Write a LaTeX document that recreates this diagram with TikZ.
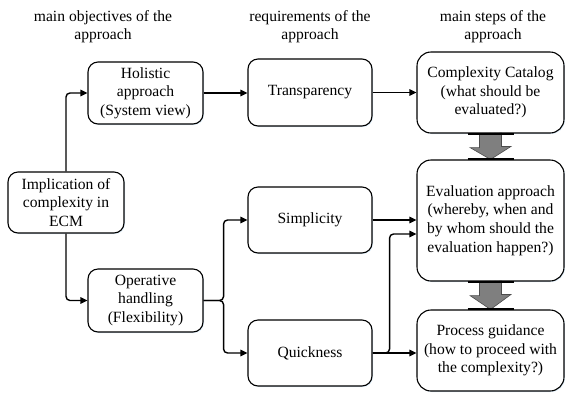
\documentclass[tikz,border=0pt]{standalone}
\usepackage{fontspec}
\setmainfont{Liberation Serif}
\usetikzlibrary{arrows.meta,calc,shadows}
\definecolor{arrgray}{HTML}{7F7F7F}
\definecolor{glow}{HTML}{D6EAF8}
\begin{document}
\begin{tikzpicture}[x=1pt,y=-1pt,
  txt/.style={font=\fontsize{15.6}{18.6}\selectfont, align=center, inner sep=1pt},
  box/.style={txt, draw, line width=1.1pt, rounded corners=10pt,
    drop shadow={shadow xshift=1pt, shadow yshift=-1pt, fill=glow, opacity=0.8}, fill=white},
  bigbox/.style={box, rounded corners=14pt},
  conn/.style={line width=1.4pt, -{Triangle[length=7pt,width=6.5pt]}, rounded corners=4pt},
  blockarr/.style={fill=arrgray, draw=black!70, line width=0.6pt},
  bar/.style={line width=2pt}
]
\useasboundingbox (0,0) rectangle (565,392);

% headers
\node[txt] (h1) at (103,26.5) {main objectives of the\\approach};
\node[txt] (h2) at (310,26.5) {requirements of the\\approach};
\node[txt] (h3) at (493,26.5) {main steps of the\\approach};

% boxes
\node[box, minimum width=116pt, minimum height=61pt] (impl) at (66,202.5) {Implication of\\complexity in\\ECM};
\node[box, minimum width=115pt, minimum height=62pt] (hol) at (145.5,93) {Holistic\\approach\\(System view)};
\node[box, minimum width=115pt, minimum height=63pt] (op) at (145.5,300.5) {Operative\\handling\\(Flexibility)};
\node[box, minimum width=124pt, minimum height=67pt] (trans) at (310,92.5) {Transparency};
\node[box, minimum width=124pt, minimum height=66pt] (simp) at (310,220) {Simplicity};
\node[box, minimum width=124pt, minimum height=66pt] (quick) at (310,353) {Quickness};
\node[bigbox, minimum width=147pt, minimum height=81pt] (cat) at (490.5,92.5) {Complexity Catalog\\(what should be\\evaluated?)};
\node[bigbox, minimum width=147pt, minimum height=121pt] (eval) at (490.5,220.5) {Evaluation approach\\(whereby, when and\\by whom should the\\evaluation happen?)};
\node[bigbox, minimum width=147pt, minimum height=81pt] (proc) at (490.5,350.5) {Process guidance\\(how to proceed with\\the complexity?)};

% connectors
\draw[conn] (impl.north) |- (hol.west);
\draw[conn] (impl.south) |- (op.west);
\draw[conn] (hol.east) -- (hol.east -| trans.west);
\draw[conn] (trans.east) -- (trans.east -| cat.west);
\coordinate (j1) at ($(op.east)+(20,0)$);
\draw[conn] (op.east) -- (j1) |- (simp.west);
\draw[conn] (op.east) -- (j1) |- (quick.west);
\draw[conn] (simp.east) -- (simp.east -| eval.west);
\coordinate (j2) at ($(quick.east)+(17,0)$);
\coordinate (e2) at ($(eval.west)+(0,13.5)$);
\draw[conn] (quick.east) -- (j2) |- (e2);
\draw[conn] (quick.east) -- (quick.east -| proc.west);

% block arrows
\draw[blockarr] ($(cat.south)+(-11,0)$) -- ++(0,14) -- ++(-9.5,0) -- (eval.north)
  -- ++(20.5,-13) -- ++(-9.5,0) -- ++(0,-14) -- cycle;
\draw[bar] ($(cat.south)+(-23,0)$) -- ++(46,0);
\draw[bar] ($(eval.north)+(-23,0)$) -- ++(46,0);
\draw[blockarr] ($(eval.south)+(-11,0)$) -- ++(0,14) -- ++(-9.5,0) -- (proc.north)
  -- ++(20.5,-15) -- ++(-9.5,0) -- ++(0,-14) -- cycle;
\draw[bar] ($(eval.south)+(-23,0)$) -- ++(46,0);
\draw[bar] ($(proc.north)+(-23,0)$) -- ++(46,0);
\end{tikzpicture}
\end{document}
